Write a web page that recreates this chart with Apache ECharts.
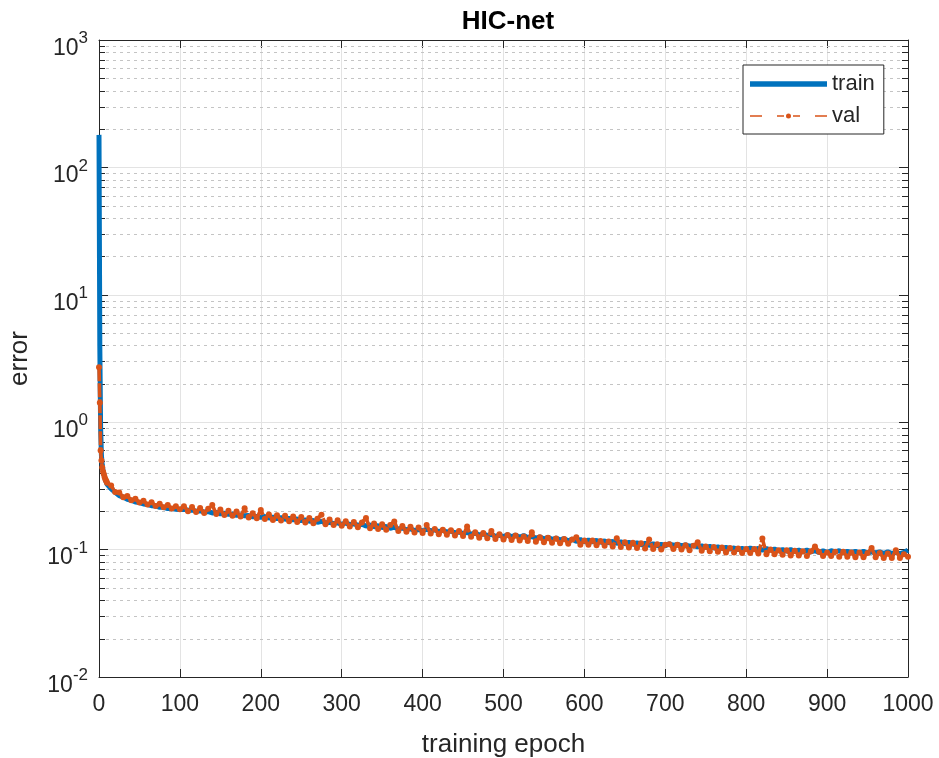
<!DOCTYPE html>
<html>
<head>
<meta charset="utf-8">
<script src="https://cdn.jsdelivr.net/npm/echarts@6/dist/echarts.min.js"></script>
<style>
html,body{margin:0;padding:0;background:#fff;}
#chart{width:939px;height:758px;}
</style>
</head>
<body>
<div id="chart"></div>
<script>
// ---- data ----
const epochs = [0,1,2,3,4,5,6,7,8,9,10,
 15,20,25,30,35,40,45,50,55,60,65,70,75,80,85,90,95,100,
 105,110,115,120,125,130,135,140,145,150,155,160,165,170,175,180,185,190,195,200,
 205,210,215,220,225,230,235,240,245,250,255,260,265,270,275,280,285,290,295,300,
 305,310,315,320,325,330,335,340,345,350,355,360,365,370,375,380,385,390,395,400,
 405,410,415,420,425,430,435,440,445,450,455,460,465,470,475,480,485,490,495,500,
 505,510,515,520,525,530,535,540,545,550,555,560,565,570,575,580,585,590,595,600,
 605,610,615,620,625,630,635,640,645,650,655,660,665,670,675,680,685,690,695,700,
 705,710,715,720,725,730,735,740,745,750,755,760,765,770,775,780,785,790,795,800,
 805,810,815,820,825,830,835,840,845,850,855,860,865,870,875,880,885,890,895,900,
 905,910,915,920,925,930,935,940,945,950,955,960,965,970,975,980,985,990,995,1000];

const trainError = [180,4.0,0.9,0.55,0.46,0.42,0.39,0.37,0.35,0.337,0.325,
 0.300,0.282,0.265,0.258,0.248,0.244,0.236,0.234,0.228,0.226,0.221,0.220,0.215,0.215,0.210,0.210,0.207,0.206,
 0.207,0.204,0.205,0.200,0.202,0.197,0.199,0.194,0.196,0.191,0.193,0.189,0.190,0.186,0.187,0.184,0.185,0.181,0.182,0.179,
 0.182,0.177,0.180,0.175,0.178,0.173,0.176,0.171,0.174,0.169,0.171,0.167,0.169,0.164,0.167,0.162,0.164,0.160,0.162,0.158,
 0.162,0.157,0.160,0.155,0.158,0.153,0.156,0.151,0.154,0.149,0.152,0.147,0.150,0.145,0.148,0.143,0.146,0.141,0.144,0.140,
 0.145,0.140,0.143,0.138,0.142,0.137,0.140,0.135,0.138,0.133,0.137,0.132,0.135,0.130,0.133,0.129,0.132,0.127,0.130,0.126,
 0.131,0.126,0.130,0.125,0.129,0.124,0.127,0.123,0.126,0.121,0.125,0.120,0.123,0.119,0.122,0.117,0.121,0.116,0.120,0.115,
 0.119,0.115,0.118,0.114,0.117,0.113,0.116,0.112,0.115,0.111,0.114,0.110,0.113,0.109,0.112,0.108,0.111,0.107,0.110,0.107,
 0.111,0.108,0.110,0.107,0.109,0.106,0.108,0.105,0.107,0.104,0.106,0.103,0.105,0.102,0.104,0.101,0.103,0.100,0.102,0.100,
 0.103,0.100,0.102,0.099,0.102,0.099,0.101,0.098,0.100,0.097,0.100,0.097,0.099,0.096,0.099,0.096,0.098,0.095,0.098,0.095,
 0.098,0.096,0.098,0.095,0.097,0.095,0.097,0.094,0.097,0.094,0.096,0.094,0.096,0.093,0.096,0.093,0.095,0.093,0.095,0.099];

const valError = [2.7,1.42,0.6,0.5,0.44,0.41,0.39,0.37,0.355,0.345,0.335,
 0.318,0.283,0.281,0.258,0.264,0.244,0.251,0.234,0.242,0.226,0.235,0.220,0.229,0.215,0.224,0.210,0.219,0.207,
 0.219,0.200,0.216,0.197,0.212,0.194,0.209,0.224,0.190,0.206,0.187,0.202,0.184,0.199,0.182,0.211,0.179,0.193,0.176,0.205,
 0.174,0.189,0.171,0.186,0.169,0.184,0.167,0.182,0.165,0.180,0.163,0.177,0.161,0.175,0.188,0.158,0.172,0.156,0.170,0.154,
 0.167,0.152,0.165,0.150,0.163,0.177,0.147,0.160,0.145,0.158,0.143,0.156,0.166,0.140,0.153,0.138,0.151,0.136,0.149,0.135,
 0.156,0.134,0.145,0.132,0.143,0.131,0.142,0.129,0.140,0.128,0.152,0.126,0.137,0.124,0.135,0.123,0.140,0.121,0.132,0.120,
 0.130,0.119,0.129,0.118,0.127,0.117,0.137,0.115,0.125,0.114,0.124,0.113,0.122,0.112,0.121,0.111,0.120,0.125,0.109,0.118,
 0.109,0.118,0.108,0.117,0.107,0.116,0.106,0.123,0.105,0.114,0.104,0.113,0.103,0.112,0.102,0.120,0.101,0.110,0.100,0.109,
 0.110,0.101,0.109,0.100,0.108,0.099,0.107,0.114,0.098,0.106,0.097,0.105,0.096,0.104,0.095,0.103,0.095,0.102,0.094,0.101,
 0.094,0.101,0.093,0.122,0.092,0.100,0.092,0.099,0.091,0.099,0.090,0.098,0.090,0.097,0.089,0.097,0.106,0.096,0.089,0.095,
 0.089,0.096,0.088,0.096,0.088,0.095,0.087,0.095,0.087,0.094,0.103,0.087,0.094,0.086,0.093,0.086,0.099,0.086,0.092,0.088];

const seriesNames = ['train', 'val'];
const xTicks = {min: 0, max: 1000, interval: 100};
const yDecades = [0.01, 0.1, 1, 10, 100];
const minorMultipliers = [2,3,4,5,6,7,8,9];

// minor log grid values (axis decoration, not data)
const minorGridValues = [];
yDecades.forEach(d => minorMultipliers.forEach(m => minorGridValues.push(+(d * m).toPrecision(3))));

const FONT = '"Liberation Sans", Arial, Helvetica, sans-serif';
const TXT = '#262626';
const AX = '#262626';
const BLUE = '#0072BD';
const ORANGE = '#D95319';

// legend glyphs (77 x 16 box)
const trainIcon = 'path://M0,0 L77,0 L77,5.5 L0,5.5 Z';
const valIcon = 'path://M0,7.2 L12,7.2 L12,8.8 L0,8.8 Z M27,7.2 L34,7.2 L34,8.8 L27,8.8 Z ' +
  'M36,8 A2.5,2.5 0 1,0 41,8 A2.5,2.5 0 1,0 36,8 Z M43,7.2 L50,7.2 L50,8.8 L43,8.8 Z M65,7.2 L77,7.2 L77,8.8 L65,8.8 Z';

const chart = echarts.init(document.getElementById('chart'), null, {renderer: 'canvas'});

const supLabel = v => {
  const e = Math.round(Math.log10(v));
  return '{b|10}{s|' + e + '}';
};

const option = {
  animation: false,
  backgroundColor: '#fff',
  title: {
    text: 'HIC-net',
    left: 503, top: 4,
    textAlign: 'center',
    textStyle: {fontFamily: FONT, fontSize: 26, fontWeight: 'bold', color: '#000'}
  },
  grid: {left: 99, right: 31, top: 40, bottom: 81, containLabel: false, outerBoundsMode: 'none'},
  legend: {
    orient: 'vertical',
    left: 743, top: 65,
    padding: [8, 9, 7, 7],
    itemGap: 10,
    itemWidth: 77, itemHeight: 16,
    symbolKeepAspect: true,
    backgroundColor: '#fff',
    borderColor: AX, borderWidth: 1,
    textStyle: {fontFamily: FONT, fontSize: 22, color: TXT},
    data: [
      {name: seriesNames[0], icon: trainIcon, itemStyle: {color: BLUE, borderWidth: 0}},
      {name: seriesNames[1], icon: valIcon, itemStyle: {color: ORANGE, borderWidth: 0}}
    ]
  },
  xAxis: [{
    type: 'value', position: 'bottom',
    min: xTicks.min, max: xTicks.max, interval: xTicks.interval,
    name: 'training epoch', nameLocation: 'middle', nameGap: 55, nameMoveOverlap: false,
    nameTextStyle: {fontFamily: FONT, fontSize: 26, color: TXT},
    axisLine: {show: true, onZero: false, lineStyle: {color: AX, width: 1}},
    axisTick: {show: true, inside: true, length: 8, lineStyle: {color: AX}},
    axisLabel: {fontFamily: FONT, fontSize: 23, color: TXT, margin: 16, formatter: v => String(v)},
    splitLine: {show: true, lineStyle: {color: '#e3e3e3', width: 1}}
  }, {
    type: 'value', position: 'top',
    min: xTicks.min, max: xTicks.max, interval: xTicks.interval,
    axisLine: {show: true, onZero: false, lineStyle: {color: AX, width: 1}},
    axisTick: {show: true, inside: true, length: 8, lineStyle: {color: AX}},
    axisLabel: {show: false},
    splitLine: {show: false}
  }],
  yAxis: [{
    type: 'log', logBase: 10, position: 'left',
    min: 0.01, max: 1000,
    name: 'error', nameLocation: 'middle', nameGap: 66, nameRotate: 90, nameMoveOverlap: false,
    nameTextStyle: {fontFamily: FONT, fontSize: 26, color: TXT},
    axisLine: {show: true, onZero: false, lineStyle: {color: AX, width: 1}},
    axisTick: {show: true, inside: true, length: 9, lineStyle: {color: AX}},
    axisLabel: {
      margin: 11,
      padding: [10, 0, 0, 0],
      formatter: supLabel,
      rich: {
        b: {fontFamily: FONT, fontSize: 23, color: TXT, verticalAlign: 'bottom', lineHeight: 30},
        s: {fontFamily: FONT, fontSize: 17, color: TXT, verticalAlign: 'top', lineHeight: 30}
      }
    },
    splitLine: {show: true, lineStyle: {color: '#e3e3e3', width: 1}}
  }, {
    type: 'log', logBase: 10, position: 'right',
    min: 0.01, max: 1000,
    axisLine: {show: true, onZero: false, lineStyle: {color: AX, width: 1}},
    axisTick: {show: true, inside: true, length: 9, lineStyle: {color: AX}},
    axisLabel: {show: false},
    splitLine: {show: false}
  }],
  series: [
    {
      name: 'minorGrid',
      type: 'custom',
      xAxisIndex: 0, yAxisIndex: 0,
      silent: true, z: 1,
      clip: false,
      data: minorGridValues.map(v => [xTicks.min, v]),
      renderItem: function (params, api) {
        const cs = params.coordSys;
        const y = Math.round(api.coord([xTicks.min, api.value(1)])[1]) + 0.5;
        return {
          type: 'group',
          children: [
            {type: 'line', shape: {x1: cs.x, y1: y, x2: cs.x + cs.width, y2: y},
             style: {stroke: '#c4c4c4', lineWidth: 1, lineDash: [3, 4]}},
            {type: 'line', shape: {x1: cs.x, y1: y, x2: cs.x + 6, y2: y},
             style: {stroke: AX, lineWidth: 1}},
            {type: 'line', shape: {x1: cs.x + cs.width - 6, y1: y, x2: cs.x + cs.width, y2: y},
             style: {stroke: AX, lineWidth: 1}}
          ]
        };
      }
    },
    {
      name: seriesNames[0],
      type: 'line',
      xAxisIndex: 0, yAxisIndex: 0,
      z: 3,
      data: epochs.map((e, i) => [e, trainError[i]]),
      symbol: 'none',
      lineStyle: {color: BLUE, width: 5},
      itemStyle: {color: BLUE}
    },
    {
      name: seriesNames[1],
      type: 'line',
      xAxisIndex: 0, yAxisIndex: 0,
      z: 4,
      data: epochs.map((e, i) => [e, valError[i]]),
      symbol: 'circle', symbolSize: 6, showSymbol: true, showAllSymbol: true,
      lineStyle: {color: ORANGE, width: 3.6, type: [14, 2]},
      itemStyle: {color: ORANGE, borderWidth: 0}
    }
  ]
};

chart.setOption(option);
</script>
</body>
</html>
